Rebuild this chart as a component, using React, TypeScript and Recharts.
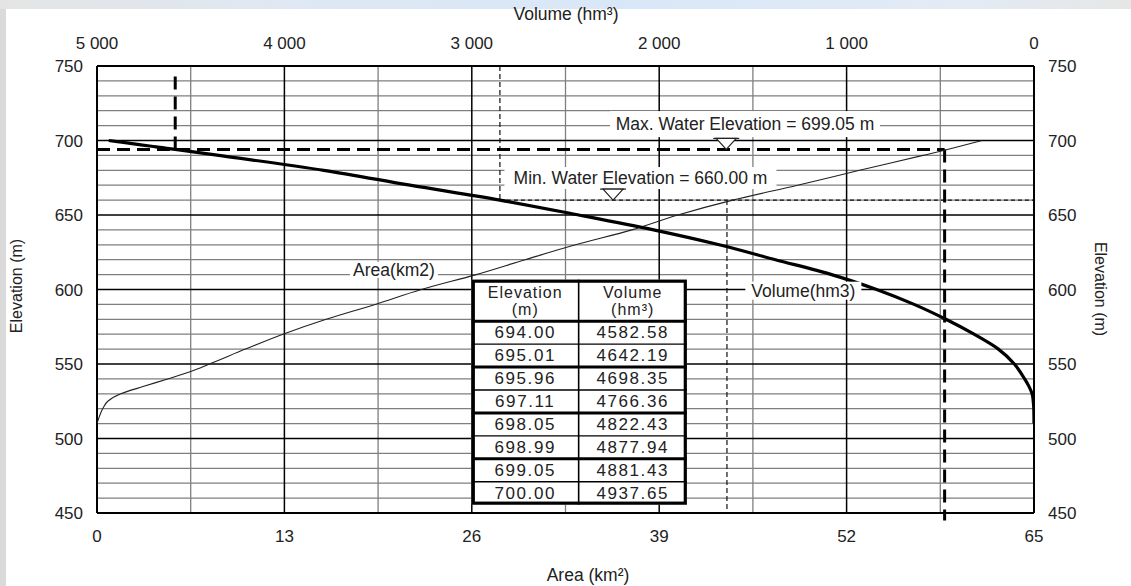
import React from "react";
import {
  ComposedChart,
  XAxis,
  YAxis,
  Scatter,
  ReferenceLine,
  ReferenceDot,
} from "recharts";

// axes
const elevMajor = [450, 500, 550, 600, 650, 700, 750];
const elevMinor = [
  460, 470, 480, 490, 510, 520, 530, 540, 560, 570, 580, 590, 610, 620, 630,
  640, 660, 670, 680, 690, 710, 720, 730, 740,
];
const areaMajor = [0, 13, 26, 39, 52, 65];
const areaMinor = [6.5, 19.5, 32.5, 45.5, 58.5];
const volTicks = [5000, 4000, 3000, 2000, 1000, 0];

// Area(km2) curve
const areaElev = [
  510, 513, 517, 521, 525, 530, 535, 540, 545, 550, 560, 570, 580, 590, 600,
  610, 620, 630, 640, 650, 660, 670, 680, 690, 694, 700,
];
const areaKm2 = [
  0, 0.1, 0.25, 0.45, 0.75, 1.65, 3.25, 4.9, 6.5, 7.8, 10.3, 12.9, 15.9, 19.3,
  22.5, 26.3, 29.7, 33.2, 37.1, 40.3, 44.1, 48.6, 52.9, 57.3, 59.0, 61.4,
];

// Volume(hm3) curve
const volElev = [
  510, 520, 525, 530, 535, 540, 550, 560, 570, 580, 590, 600, 610, 620, 630,
  640, 650, 660, 670, 680, 690, 694.0, 695.01, 695.96, 697.11, 698.05, 698.99,
  699.05, 700.0,
];
const volHm3 = [
  0, 1, 4, 10, 27, 50, 105, 190, 320, 470, 640, 840, 1080, 1380, 1680, 2030,
  2430, 2850, 3330, 3790, 4350, 4582.58, 4642.19, 4698.35, 4766.36, 4822.43,
  4877.94, 4881.43, 4937.65,
];

// table
const tableElev = ["694.00", "695.01", "695.96", "697.11", "698.05", "698.99", "699.05", "700.00"];
const tableVol = ["4582.58", "4642.19", "4698.35", "4766.36", "4822.43", "4877.94", "4881.43", "4937.65"];

// water levels
const maxLineElev = 694;
const maxLineVol = 4582.58;
const maxLineArea = 58.8;
const minLineElev = 660;
const minLineVol = 2850;
const minLineArea = 43.7;
const maxLabel = "Max. Water Elevation = 699.05 m";
const minLabel = "Min. Water Elevation = 660.00 m";

const areaPts = areaElev.map((e, i) => ({ elev: e, area: areaKm2[i] })).reverse();
const volPts = volElev.map((e, i) => ({ elev: e, vol: volHm3[i] })).reverse();

const FONT = "'Liberation Sans', Arial, sans-serif";
const INK = "#222";

const fmtVol = (v: number) => (v >= 1000 ? `${Math.floor(v / 1000)} 000` : String(v));

const NoDot = () => <g />;

const TextBox = (props: any) => {
  const { cx, cy, text, w, h } = props;
  return (
    <g>
      <rect x={cx - w / 2} y={cy - h / 2} width={w} height={h} fill="#fff" />
      <text
        x={cx}
        y={cy}
        textAnchor="middle"
        dominantBaseline="central"
        fontSize={17.5}
        fontFamily={FONT}
        fill={INK}
      >
        {text}
      </text>
    </g>
  );
};

const Marker = (props: any) => {
  const { cx, cy } = props;
  return (
    <g>
      <line x1={cx - 13} y1={cy - 11} x2={cx + 13} y2={cy - 11} stroke="#222" strokeWidth={1.2} />
      <polygon
        points={`${cx - 10},${cy - 11} ${cx + 10},${cy - 11} ${cx},${cy}`}
        fill="#fff"
        stroke="#222"
        strokeWidth={1.2}
      />
    </g>
  );
};

// table box anchored at its top-left corner
const TableShape = (props: any) => {
  const x = props.cx;
  const y = props.cy;
  const width = 215;
  const height = 225;
  const headH = 41.5;
  const rowH = (height - headH) / tableElev.length;
  const colX = x + width * 0.497;
  const c1 = (x + colX) / 2;
  const c2 = (colX + x + width) / 2;
  const lines = [];
  for (let i = 0; i < tableElev.length - 1; i++) {
    const ly = y + headH + rowH * (i + 1);
    lines.push(
      <line
        key={`l${i}`}
        x1={x}
        x2={x + width}
        y1={ly}
        y2={ly}
        stroke="#000"
        strokeWidth={i % 2 === 1 ? 3 : 1.3}
      />
    );
  }
  const hs = { textAnchor: "middle", dominantBaseline: "central", fontSize: 16, letterSpacing: 1 } as any;
  const rs = { textAnchor: "middle", dominantBaseline: "central", fontSize: 17, letterSpacing: 1.6 } as any;
  return (
    <g fontFamily={FONT} fill={INK}>
      <rect x={x} y={y} width={width} height={height} fill="#fff" />
      <line x1={colX} x2={colX} y1={y} y2={y + height} stroke="#000" strokeWidth={1.6} />
      <line x1={x} x2={x + width} y1={y + headH} y2={y + headH} stroke="#000" strokeWidth={3} />
      {lines}
      <rect
        x={x + 1.5}
        y={y + 1.5}
        width={width - 3}
        height={height - 3}
        fill="none"
        stroke="#000"
        strokeWidth={3.2}
      />
      <text x={c1} y={y + headH * 0.3} {...hs}>Elevation</text>
      <text x={c1} y={y + headH * 0.73} {...hs}>(m)</text>
      <text x={c2} y={y + headH * 0.3} {...hs}>Volume</text>
      <text x={c2} y={y + headH * 0.73} {...hs}>(hm³)</text>
      {tableElev.map((e, i) => (
        <g key={e}>
          <text x={c1} y={y + headH + rowH * (i + 0.5)} {...rs}>{e}</text>
          <text x={c2} y={y + headH + rowH * (i + 0.5)} {...rs}>{tableVol[i]}</text>
        </g>
      ))}
    </g>
  );
};

const tick = { fontSize: 17, fill: INK, fontFamily: FONT };
const frame = { stroke: "#000", strokeWidth: 2 };
const GRID_GREY = "#7f7f7f";

export default function App() {
  return (
    <div
      style={{
        position: "absolute",
        left: 0,
        top: 0,
        width: 1131,
        height: 586,
        background: "#fff",
        overflow: "hidden",
        fontFamily: FONT,
        color: INK,
      }}
    >
      <div
        style={{
          position: "absolute",
          left: 0,
          top: 0,
          width: 1131,
          height: 9,
          background: "linear-gradient(to right, #e4e4e4, #dfe8f3 25%, #d8e7f8 55%, #e3ebf5 85%, #e6e6e6)",
        }}
      />
      <div style={{ position: "absolute", left: 0, top: 9, width: 6, height: 577, background: "#dadada" }} />
      <ComposedChart
        width={1131}
        height={586}
        margin={{ top: 0, right: 40, bottom: 33, left: 40 }}
        style={{ fontFamily: FONT }}
      >
        <XAxis
          xAxisId="area"
          orientation="bottom"
          type="number"
          dataKey="area"
          domain={[0, 65]}
          ticks={areaMajor}
          allowDataOverflow
          height={40}
          tickLine={false}
          tickSize={6}
          tickMargin={11}
          axisLine={frame}
          tick={tick}
        />
        <XAxis
          xAxisId="vol"
          orientation="top"
          type="number"
          dataKey="vol"
          domain={[0, 5000]}
          reversed
          ticks={volTicks}
          tickFormatter={fmtVol}
          allowDataOverflow
          height={66}
          tickLine={false}
          tickSize={6}
          tickMargin={11}
          axisLine={frame}
          tick={tick}
        />
        <YAxis
          yAxisId="left"
          orientation="left"
          type="number"
          dataKey="elev"
          domain={[450, 750]}
          ticks={elevMajor}
          allowDataOverflow
          width={57}
          tickLine={false}
          tickSize={6}
          tickMargin={8}
          axisLine={frame}
          tick={tick}
        />
        <YAxis
          yAxisId="right"
          orientation="right"
          type="number"
          dataKey="elev"
          domain={[450, 750]}
          ticks={elevMajor}
          allowDataOverflow
          width={57}
          tickLine={false}
          tickSize={6}
          tickMargin={8}
          axisLine={frame}
          tick={tick}
        />

        {elevMinor.map((v) => (
          <ReferenceLine key={`hm${v}`} xAxisId="area" yAxisId="left" y={v} stroke={GRID_GREY} strokeWidth={1.3} />
        ))}
        {areaMinor.map((v) => (
          <ReferenceLine key={`vm${v}`} xAxisId="area" yAxisId="left" x={v} stroke={GRID_GREY} strokeWidth={1.3} />
        ))}
        {elevMajor.slice(1, -1).map((v) => (
          <ReferenceLine key={`hM${v}`} xAxisId="area" yAxisId="left" y={v} stroke="#000" strokeWidth={1.5} />
        ))}
        {areaMajor.slice(1, -1).map((v) => (
          <ReferenceLine key={`vM${v}`} xAxisId="area" yAxisId="left" x={v} stroke="#000" strokeWidth={1.5} />
        ))}

        <Scatter
          data={areaPts}
          xAxisId="area"
          yAxisId="left"
          line={{ stroke: "#222", strokeWidth: 1.1 }}
          lineJointType="monotoneY"
          shape={NoDot}
          isAnimationActive={false}
        />
        <Scatter
          data={volPts}
          xAxisId="vol"
          yAxisId="left"
          line={{ stroke: "#000", strokeWidth: 3.2 }}
          lineJointType="monotoneY"
          shape={NoDot}
          isAnimationActive={false}
        />

        {/* min water level */}
        <ReferenceLine
          xAxisId="vol"
          yAxisId="left"
          segment={[{ x: minLineVol, y: 750 }, { x: minLineVol, y: minLineElev }]}
          stroke="#111"
          strokeWidth={1.2}
          strokeDasharray="5 3"
        />
        <ReferenceLine
          xAxisId="vol"
          yAxisId="left"
          segment={[{ x: minLineVol, y: minLineElev }, { x: 0, y: minLineElev }]}
          stroke="#111"
          strokeWidth={1.2}
          strokeDasharray="4 3"
        />
        <ReferenceLine
          xAxisId="area"
          yAxisId="left"
          segment={[{ x: minLineArea, y: minLineElev }, { x: minLineArea, y: 450 }]}
          stroke="#111"
          strokeWidth={1.2}
          strokeDasharray="5 3"
        />

        {/* max water level */}
        <ReferenceLine
          xAxisId="area"
          yAxisId="left"
          segment={[{ x: 0, y: maxLineElev }, { x: maxLineArea, y: maxLineElev }]}
          stroke="#000"
          strokeWidth={3}
          strokeDasharray="13 7"
        />
        <ReferenceLine
          xAxisId="vol"
          yAxisId="left"
          segment={[{ x: maxLineVol, y: 743 }, { x: maxLineVol, y: maxLineElev }]}
          stroke="#000"
          strokeWidth={3}
          strokeDasharray="13 7"
        />
        <ReferenceLine
          xAxisId="area"
          yAxisId="left"
          segment={[{ x: maxLineArea, y: maxLineElev }, { x: maxLineArea, y: 445 }]}
          ifOverflow="visible"
          stroke="#000"
          strokeWidth={3}
          strokeDasharray="13 7"
        />

        <ReferenceDot xAxisId="area" yAxisId="left" x={26} y={606.6} shape={TableShape} />

        <ReferenceDot
          xAxisId="area"
          yAxisId="left"
          x={44.95}
          y={711}
          shape={(p: any) => <TextBox {...p} text={maxLabel} w={270} h={26} />}
        />
        <ReferenceDot
          xAxisId="area"
          yAxisId="left"
          x={37.7}
          y={674.8}
          shape={(p: any) => <TextBox {...p} text={minLabel} w={272} h={22} />}
        />
        <ReferenceDot
          xAxisId="area"
          yAxisId="left"
          x={20.6}
          y={613.2}
          shape={(p: any) => <TextBox {...p} text="Area(km2)" w={88} h={16} />}
        />
        <ReferenceDot
          xAxisId="area"
          yAxisId="left"
          x={49.0}
          y={599.2}
          shape={(p: any) => <TextBox {...p} text="Volume(hm3)" w={116} h={18} />}
        />
        <ReferenceDot xAxisId="area" yAxisId="left" x={43.65} y={maxLineElev} shape={Marker} />
        <ReferenceDot xAxisId="area" yAxisId="left" x={35.8} y={minLineElev} shape={Marker} />
      </ComposedChart>

      <div style={{ position: "absolute", left: 466, width: 200, top: 4, textAlign: "center", fontSize: 17.5 }}>
        Volume (hm³)
      </div>
      <div
        style={{
          position: "absolute",
          left: 17 - 60,
          top: 287 - 10,
          width: 120,
          textAlign: "center",
          fontSize: 16,
          transform: "rotate(-90deg)",
        }}
      >
        Elevation (m)
      </div>
      <div
        style={{
          position: "absolute",
          left: 1100 - 60,
          top: 290 - 10,
          width: 120,
          textAlign: "center",
          fontSize: 16,
          transform: "rotate(90deg)",
        }}
      >
        Elevation (m)
      </div>
      <div style={{ position: "absolute", left: 488, width: 200, top: 565, textAlign: "center", fontSize: 17.5 }}>
        Area (km²)
      </div>
    </div>
  );
}
